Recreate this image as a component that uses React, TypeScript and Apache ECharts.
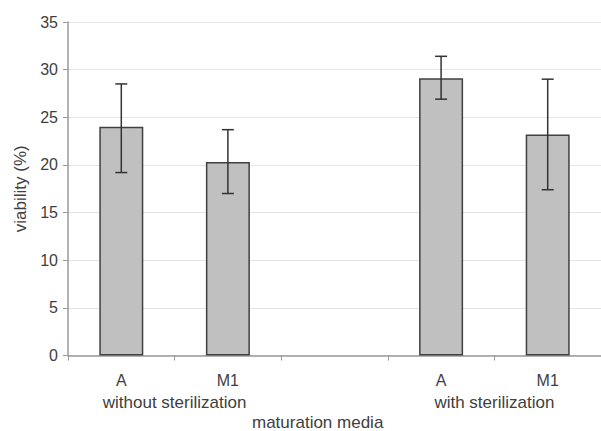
import React, { useEffect, useRef } from "react";
import * as echarts from "echarts";

const categories = ["A", "M1", "", "A", "M1"];
const meanValues: (number | null)[] = [24.0, 20.3, null, 29.1, 23.2];
const errLow: (number | null)[] = [19.2, 17.0, null, 26.9, 17.4];
const errHigh: (number | null)[] = [28.5, 23.7, null, 31.4, 29.0];
const groupLabels = ["without sterilization", "with sterilization"];
const groupSpans = [
  [0, 1],
  [3, 4],
];
const yTicks = { min: 0, max: 35, interval: 5 };

const FONT = "Liberation Sans, Arial, sans-serif";

export default function App() {
  const ref = useRef<HTMLDivElement>(null);
  useEffect(() => {
    if (!ref.current) return;
    const chart = echarts.init(ref.current, null, { renderer: "svg" });
    const errData = categories
      .map((_, i) => [i, errLow[i], errHigh[i]])
      .filter((d) => d[1] != null);
    chart.setOption({
      animation: false,
      backgroundColor: "#fff",
      grid: { left: 68, top: 22, width: 538, height: 333.5 },
      xAxis: {
        type: "category",
        data: categories,
        axisLine: { lineStyle: { color: "#9a9a9a", width: 1.5 } },
        axisTick: { show: true, length: 5, lineStyle: { color: "#9a9a9a" } },
        axisLabel: {
          margin: 17,
          fontSize: 16,
          fontFamily: FONT,
          color: "#404040",
        },
        splitLine: { show: false },
      },
      yAxis: {
        type: "value",
        min: yTicks.min,
        max: yTicks.max,
        interval: yTicks.interval,
        name: "viability (%)",
        nameLocation: "middle",
        nameRotate: 90,
        nameGap: 39,
        nameTextStyle: { fontSize: 17, fontFamily: FONT, color: "#404040" },
        axisLine: { show: true, lineStyle: { color: "#9a9a9a", width: 1.5 } },
        axisTick: { show: true, length: 5, lineStyle: { color: "#9a9a9a" } },
        axisLabel: {
          margin: 10,
          fontSize: 16,
          fontFamily: FONT,
          color: "#404040",
        },
        splitLine: { lineStyle: { color: "#e4e4e4", width: 1 } },
      },
      graphic: [
        {
          type: "text",
          x: 252,
          y: 422,
          style: {
            text: "maturation media",
            fontSize: 17,
            fontFamily: FONT,
            fill: "#404040",
            verticalAlign: "middle",
          },
        },
      ],
      series: [
        {
          type: "bar",
          data: meanValues,
          barWidth: 44,
          itemStyle: {
            color: "#c0c0c0",
            borderColor: "#404040",
            borderWidth: 1.5,
          },
          z: 2,
        },
        {
          type: "custom",
          data: errData,
          z: 3,
          renderItem: (params: any, api: any) => {
            const x = api.value(0);
            const lo = api.coord([x, api.value(1)]);
            const hi = api.coord([x, api.value(2)]);
            const cap = 6;
            const style = { stroke: "#333", lineWidth: 1.5 };
            return {
              type: "group",
              children: [
                { type: "line", shape: { x1: lo[0], y1: lo[1], x2: hi[0], y2: hi[1] }, style },
                { type: "line", shape: { x1: hi[0] - cap, y1: hi[1], x2: hi[0] + cap, y2: hi[1] }, style },
                { type: "line", shape: { x1: lo[0] - cap, y1: lo[1], x2: lo[0] + cap, y2: lo[1] }, style },
              ],
            };
          },
        },
        {
          type: "custom",
          data: groupSpans.map((s, i) => [s[0], s[1], i]),
          clip: false,
          z: 3,
          renderItem: (params: any, api: any) => {
            const a = api.coord([api.value(0), 0]);
            const b = api.coord([api.value(1), 0]);
            const idx = api.value(2);
            return {
              type: "text",
              x: (a[0] + b[0]) / 2,
              y: a[1] + 47,
              style: {
                text: groupLabels[idx],
                fontSize: 17,
                fontFamily: FONT,
                fill: "#404040",
                align: "center",
                verticalAlign: "middle",
              },
            };
          },
        },
      ],
    });
    return () => chart.dispose();
  }, []);
  return (
    <div
      ref={ref}
      style={{ position: "absolute", left: 0, top: 0, width: 601, height: 431 }}
    />
  );
}
